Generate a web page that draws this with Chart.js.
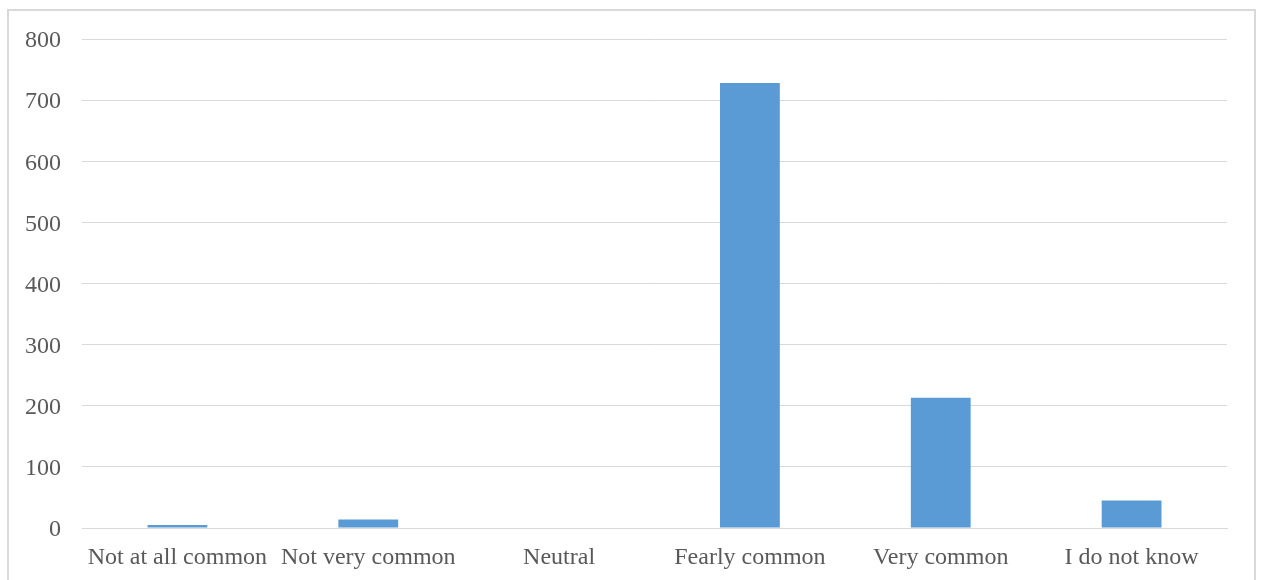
<!DOCTYPE html>
<html>
<head>
<meta charset="utf-8">
<script src="https://cdn.jsdelivr.net/npm/chart.js@4"></script>
<style>
  html, body { margin: 0; padding: 0; background: #ffffff; }
  #wrap { position: absolute; left: 0; top: 0; width: 1261px; height: 580px; }
</style>
</head>
<body>
<div id="wrap"><canvas id="c" width="1261" height="580"></canvas></div>
<script>
// Survey responses
const categories = ["Not at all common", "Not very common", "Neutral", "Fearly common", "Very common", "I do not know"];
const counts = [5, 14, 0, 728, 213, 45];
const yTicks = [0, 100, 200, 300, 400, 500, 600, 700, 800];

const textColor = "#595959";
const gridColor = "#d9d9d9";
const barColor = "#5b9bd5";
const fontFamily = "'Liberation Serif', 'Times New Roman', serif";

// Light frame around the whole chart
const framePlugin = {
  id: "frame",
  beforeDraw(chart) {
    const ctx = chart.ctx;
    ctx.save();
    ctx.strokeStyle = gridColor;
    ctx.lineWidth = 2;
    ctx.strokeRect(8, 10, 1247, 600);
    ctx.restore();
  }
};

new Chart(document.getElementById("c"), {
  type: "bar",
  data: {
    labels: categories,
    datasets: [{
      data: counts,
      backgroundColor: barColor,
      borderWidth: 0,
      barPercentage: 0.3135,
      categoryPercentage: 1.0
    }]
  },
  options: {
    responsive: false,
    animation: false,
    devicePixelRatio: 1,
    layout: { padding: { left: 0, right: 34, top: 39, bottom: 0 } },
    plugins: { legend: { display: false }, tooltip: { enabled: false } },
    scales: {
      x: {
        grid: { display: false, drawTicks: false },
        border: { display: true, color: gridColor, width: 1 },
        ticks: {
          color: textColor,
          font: { family: fontFamily, size: 24 },
          padding: 15,
          maxRotation: 0,
          autoSkip: false
        },
        afterFit(scale) { scale.height = 52; }
      },
      y: {
        min: 0,
        max: 800,
        afterBuildTicks(scale) { scale.ticks = yTicks.map(v => ({ value: v })); },
        grid: { color: gridColor, lineWidth: 1, drawTicks: false },
        border: { display: false },
        ticks: {
          color: textColor,
          font: { family: fontFamily, size: 24 },
          padding: 21,
          labelOffset: 2
        },
        afterFit(scale) { scale.width = 82; }
      }
    }
  },
  plugins: [framePlugin]
});
</script>
</body>
</html>
